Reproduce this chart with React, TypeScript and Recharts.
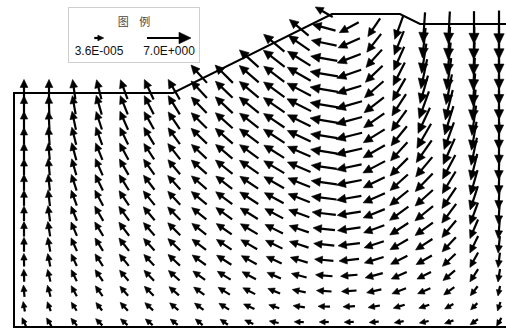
import React from 'react';
import { ScatterChart, Scatter, XAxis, YAxis } from 'recharts';

// Node columns (m, horizontal) and node levels (m, elevation)
const columnX = [2, 7, 12, 17, 22, 27, 32, 37, 42, 47, 52, 57, 62, 67, 72, 77, 82, 87, 92, 97];
const rowLevels = [1.0, 4.1, 7.2, 10.3, 13.4, 16.5, 19.6, 22.7, 25.8, 28.9, 32.0, 35.1, 38.2, 41.3, 44.4, 47.5, 50.6, 53.7, 56.8, 59.9, 63.0];

// Flow direction (deg, counter-clockwise from +x) per column, bottom node first
const angleByColumn: number[][] = [
  [115, 100, 95, 92, 91, 90, 90, 90, 90, 90, 90, 90, 90, 90, 90, 90],
  [120, 110, 105, 103, 101, 100, 99, 98, 97, 96, 95, 95, 94, 93, 92, 90],
  [130, 122, 118, 116, 115, 114, 113, 112, 110, 108, 106, 105, 104, 102, 100, 98],
  [135, 128, 125, 124, 123, 122, 121, 120, 118, 116, 114, 112, 110, 108, 106, 104],
  [138, 133, 131, 130, 129, 128, 127, 126, 124, 122, 120, 118, 116, 114, 112, 110],
  [140, 137, 135, 134, 133, 132, 131, 130, 129, 127, 125, 123, 121, 119, 117, 115],
  [142, 140, 139, 138, 137, 136, 135, 134, 133, 132, 130, 128, 126, 124, 122, 120],
  [140, 143, 144, 144, 144, 143, 142, 141, 140, 139, 138, 137, 136, 135, 134, 133, 132],
  [145, 148, 148, 148, 147, 146, 145, 144, 143, 142, 141, 140, 139, 138, 137, 136, 135],
  [155, 155, 153, 152, 151, 150, 149, 148, 147, 146, 145, 144, 143, 142, 141, 140, 139, 138],
  [168, 162, 158, 156, 155, 154, 153, 152, 151, 150, 149, 148, 147, 146, 145, 144, 143, 142, 140],
  [178, 172, 168, 165, 163, 162, 161, 160, 159, 158, 157, 156, 155, 154, 153, 152, 150, 148, 145, 140],
  [180, 178, 176, 175, 175, 174, 174, 173, 173, 172, 172, 171, 171, 170, 170, 170, 170, 170, 168, 165, 150],
  [182, 183, 184, 185, 186, 187, 188, 189, 190, 191, 192, 193, 194, 195, 196, 197, 199, 201, 204, 208],
  [185, 190, 193, 195, 197, 198, 200, 202, 204, 206, 208, 210, 212, 215, 218, 221, 224, 228, 232, 236],
  [190, 197, 201, 204, 207, 210, 213, 216, 219, 222, 225, 228, 231, 234, 237, 240, 243, 246, 248, 250],
  [192, 198, 203, 207, 210, 213, 216, 219, 222, 226, 230, 235, 240, 245, 250, 254, 258, 261, 264, 266],
  [200, 210, 216, 220, 224, 227, 230, 233, 236, 239, 242, 246, 250, 253, 256, 259, 262, 264, 266, 267],
  [215, 225, 232, 237, 241, 244, 247, 250, 252, 254, 256, 258, 260, 262, 264, 266, 267, 268, 269, 270],
  [240, 252, 258, 261, 263, 264, 265, 266, 267, 268, 268, 269, 269, 270, 270, 270, 270, 270, 270, 270],
];

// Flow speed per column, bottom node first
const speedByColumn: number[][] = [
  [1.4, 1.6, 1.9, 2.0, 2.1, 2.3, 2.4, 2.4, 2.5, 2.6, 2.6, 2.7, 2.7, 2.9, 2.9, 3.2],
  [1.4, 1.6, 1.9, 2.0, 2.1, 2.3, 2.4, 2.5, 2.6, 2.6, 2.7, 2.7, 2.9, 2.9, 3.0, 3.2],
  [1.4, 1.6, 1.9, 2.0, 2.1, 2.3, 2.4, 2.5, 2.6, 2.7, 2.7, 2.9, 2.9, 3.0, 3.0, 3.2],
  [1.4, 1.6, 2.0, 2.2, 2.3, 2.4, 2.6, 2.7, 2.8, 2.8, 2.9, 2.9, 3.0, 3.0, 3.2, 3.2],
  [1.4, 1.8, 2.0, 2.2, 2.4, 2.6, 2.7, 2.8, 2.8, 2.9, 2.9, 3.0, 3.0, 3.2, 3.2, 3.3],
  [1.4, 1.8, 2.1, 2.3, 2.4, 2.6, 2.7, 2.8, 2.9, 2.9, 3.0, 3.0, 3.2, 3.2, 3.3, 3.5],
  [1.4, 1.8, 2.1, 2.4, 2.6, 2.7, 2.8, 2.9, 2.9, 3.0, 3.0, 3.2, 3.2, 3.3, 3.5, 3.7],
  [1.4, 1.8, 2.1, 2.4, 2.7, 2.8, 2.9, 3.0, 3.2, 3.2, 3.3, 3.3, 3.5, 3.5, 3.5, 3.7, 3.8],
  [1.4, 1.9, 2.2, 2.5, 2.8, 2.9, 3.0, 3.2, 3.3, 3.3, 3.5, 3.5, 3.7, 3.7, 3.8, 3.8, 4.0],
  [1.4, 1.9, 2.2, 2.5, 2.8, 3.0, 3.2, 3.3, 3.5, 3.5, 3.7, 3.7, 3.8, 3.8, 4.0, 4.0, 4.1, 4.1],
  [1.3, 1.75, 2.1, 2.4, 2.7, 3.0, 3.2, 3.3, 3.5, 3.7, 3.8, 3.8, 4.0, 4.0, 4.1, 4.1, 4.1, 4.3, 4.3],
  [1.3, 1.9, 2.2, 2.5, 2.9, 3.2, 3.3, 3.5, 3.7, 3.8, 4.0, 4.0, 4.1, 4.1, 4.3, 4.3, 4.3, 4.3, 4.1, 4.0],
  [1.3, 1.9, 2.4, 2.7, 3.0, 3.3, 3.5, 3.8, 4.0, 4.1, 4.1, 4.3, 4.3, 4.5, 4.5, 4.5, 4.5, 4.3, 4.1, 3.8, 3.2],
  [1.3, 1.9, 2.4, 2.7, 3.2, 3.5, 3.7, 3.8, 4.0, 4.1, 4.1, 4.3, 4.3, 4.3, 4.3, 4.1, 4.1, 4.0, 3.8, 3.5],
  [1.3, 1.9, 2.4, 2.9, 3.2, 3.3, 3.5, 3.7, 3.8, 3.8, 4.0, 4.0, 4.0, 4.0, 4.0, 4.0, 3.8, 3.8, 3.7, 3.5],
  [1.3, 1.9, 2.4, 2.7, 3.0, 3.3, 3.5, 3.7, 3.8, 3.8, 4.0, 4.0, 4.0, 4.1, 4.1, 4.1, 4.1, 4.1, 4.1, 4.0],
  [1.1, 1.75, 2.2, 2.5, 2.9, 3.2, 3.5, 3.7, 3.8, 4.0, 4.1, 4.3, 4.5, 4.5, 4.6, 4.6, 4.8, 4.8, 4.8, 4.8],
  [1.1, 1.6, 2.1, 2.5, 2.9, 3.2, 3.5, 3.8, 4.0, 4.1, 4.3, 4.5, 4.6, 4.8, 4.9, 4.9, 5.1, 5.1, 5.1, 5.1],
  [1.1, 1.4, 1.9, 2.4, 2.7, 3.0, 3.3, 3.7, 4.0, 4.1, 4.3, 4.5, 4.6, 4.8, 4.9, 5.1, 5.1, 5.2, 5.2, 5.2],
  [0.95, 1.3, 1.6, 2.1, 2.4, 2.7, 3.0, 3.3, 3.5, 3.8, 4.0, 4.1, 4.3, 4.5, 4.6, 4.8, 4.9, 5.1, 5.2, 5.4],
];

// Model outline (m)
const outlineX = [98.4, 0, 0, 31.8, 63.6, 77.2, 81.2, 98.4];
const outlineY = [0, 0, 46.8, 46.8, 62.6, 62.6, 60.6, 60.6];

// Legend
const legendTitle = '图 例';
const legendValues = [3.6e-5, 7.0];
const legendLabels = ['3.6E-005', '7.0E+000'];

const WIDTH = 506;
const HEIGHT = 331;
const X_DOMAIN: [number, number] = [-2.8, 98.4];
const Y_DOMAIN: [number, number] = [-0.8, 65.4];
const PX_PER_SPEED = 44 / 7;
const MIN_LEN = 9.5;

const arrowLength = (v: number) => Math.max(v * PX_PER_SPEED, MIN_LEN);

const flowPoints = angleByColumn.flatMap((angles, c) =>
  angles.map((angle, k) => ({
    x: columnX[c],
    y: rowLevels[k],
    angle,
    speed: speedByColumn[c][k],
  }))
);

const outlinePoints = outlineX.map((x, i) => ({ x, y: outlineY[i] }));

function ArrowGlyph({ tx, ty, ux, uy, len }: { tx: number; ty: number; ux: number; uy: number; len: number }) {
  const hl = Math.min(12, 4 + 0.2 * len);
  const hw = hl * 0.48;
  const tipX = tx + ux * len;
  const tipY = ty + uy * len;
  const baseX = tipX - ux * hl;
  const baseY = tipY - uy * hl;
  const px = -uy;
  const py = ux;
  const pts = `${tipX},${tipY} ${baseX + px * hw},${baseY + py * hw} ${baseX - px * hw},${baseY - py * hw}`;
  return (
    <g>
      <line x1={tx} y1={ty} x2={baseX + ux * 1} y2={baseY + uy * 1} stroke="#000" strokeWidth={2.2} />
      <polygon points={pts} fill="#000" stroke="#000" strokeWidth={0.6} strokeLinejoin="miter" />
    </g>
  );
}

const FlowArrow = (props: any) => {
  const { cx, cy, payload } = props;
  if (cx == null || cy == null || !payload) return <g />;
  const len = arrowLength(payload.speed);
  const a = (payload.angle * Math.PI) / 180;
  const ux = Math.cos(a);
  const uy = -Math.sin(a);
  return <ArrowGlyph tx={cx - (ux * len) / 2} ty={cy - (uy * len) / 2} ux={ux} uy={uy} len={len} />;
};

const NoPoint = () => <g />;

function LegendBox() {
  const centers = [30, 100];
  return (
    <div
      style={{
        position: 'absolute',
        left: 68,
        top: 7,
        width: 132,
        height: 56,
        border: '1px solid #cfcfcf',
        background: '#fff',
        boxSizing: 'border-box',
        fontFamily: '"Liberation Sans", Arial, sans-serif',
      }}
    >
      <div
        style={{
          position: 'absolute',
          left: 0,
          width: '100%',
          top: 6,
          textAlign: 'center',
          fontSize: 11,
          color: '#444',
          fontFamily: '"Noto Sans CJK SC", sans-serif',
          wordSpacing: 8,
          lineHeight: '14px',
        }}
      >
        {legendTitle}
      </div>
      <svg width={132} height={56} style={{ position: 'absolute', left: 0, top: 0 }}>
        {legendValues.map((v, i) => {
          const len = arrowLength(v);
          return <ArrowGlyph key={i} tx={centers[i] - len / 2} ty={30} ux={1} uy={0} len={len} />;
        })}
      </svg>
      {legendLabels.map((t, i) => (
        <div
          key={t}
          style={{
            position: 'absolute',
            left: centers[i] - 35,
            width: 70,
            top: 36,
            textAlign: 'center',
            fontSize: 12,
            color: '#111',
            lineHeight: '14px',
          }}
        >
          {t}
        </div>
      ))}
    </div>
  );
}

export default function App() {
  return (
    <div style={{ position: 'absolute', left: 0, top: 0, width: WIDTH, height: HEIGHT, background: '#fff' }}>
      <ScatterChart width={WIDTH} height={HEIGHT} margin={{ top: 0, right: 0, bottom: 0, left: 0 }}>
        <XAxis type="number" dataKey="x" domain={X_DOMAIN} hide allowDataOverflow />
        <YAxis type="number" dataKey="y" domain={Y_DOMAIN} hide allowDataOverflow />
        <Scatter
          data={outlinePoints}
          line={{ stroke: '#000', strokeWidth: 2 }}
          shape={NoPoint}
          isAnimationActive={false}
        />
        <Scatter data={flowPoints} shape={FlowArrow} isAnimationActive={false} />
      </ScatterChart>
      <LegendBox />
    </div>
  );
}
